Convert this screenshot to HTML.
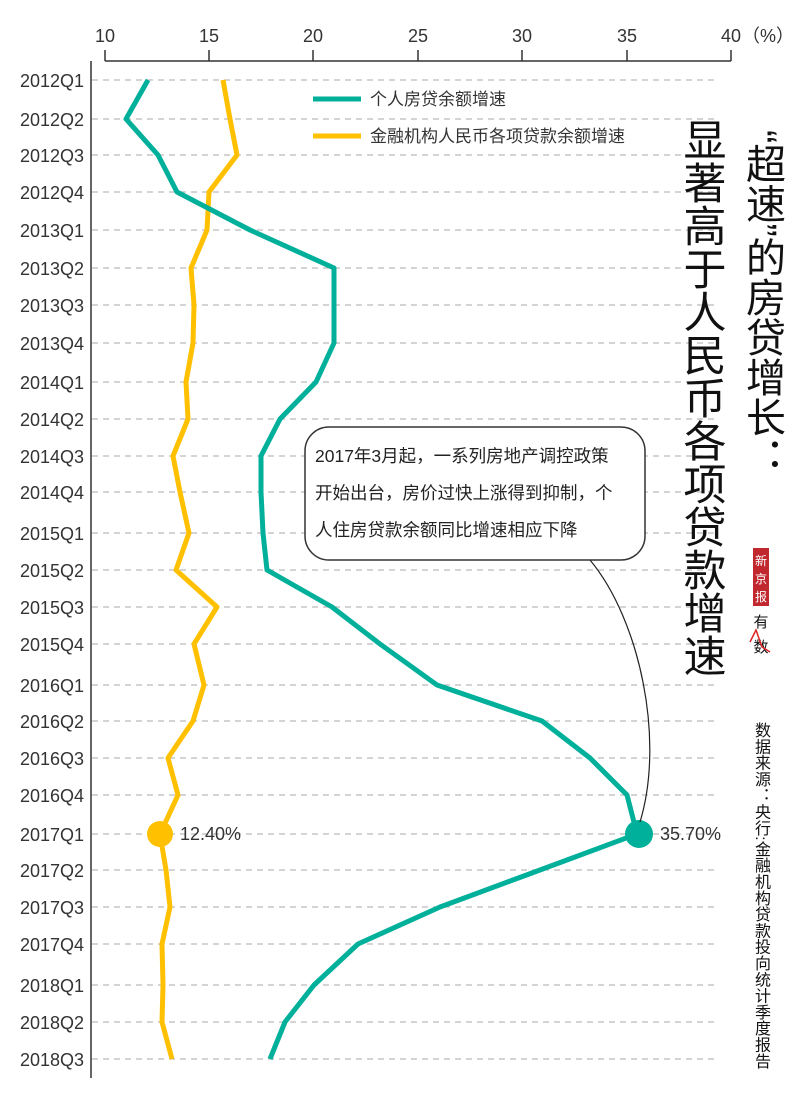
<!DOCTYPE html>
<html><head><meta charset="utf-8"><style>
body{margin:0;background:#fff;}
svg text{font-family:"Liberation Sans","Noto Sans CJK SC",sans-serif;}
.v{position:absolute;writing-mode:vertical-rl;font-family:"Liberation Sans","Noto Sans CJK SC",sans-serif;color:#111;}
</style></head><body>
<div style="position:relative;width:800px;height:1101px;overflow:hidden;">
<svg width="800" height="1101" xmlns="http://www.w3.org/2000/svg" style="position:absolute;left:0;top:0">
<g stroke="#bbb" stroke-width="1.2" stroke-dasharray="6,5">
<line x1="92" x2="718" y1="80" y2="80"/><line x1="92" x2="718" y1="119" y2="119"/><line x1="92" x2="718" y1="155" y2="155"/><line x1="92" x2="718" y1="192" y2="192"/><line x1="92" x2="718" y1="230" y2="230"/><line x1="92" x2="718" y1="268" y2="268"/><line x1="92" x2="718" y1="305" y2="305"/><line x1="92" x2="718" y1="343" y2="343"/><line x1="92" x2="718" y1="382" y2="382"/><line x1="92" x2="718" y1="419" y2="419"/><line x1="92" x2="718" y1="456" y2="456"/><line x1="92" x2="718" y1="492" y2="492"/><line x1="92" x2="718" y1="533" y2="533"/><line x1="92" x2="718" y1="570" y2="570"/><line x1="92" x2="718" y1="607" y2="607"/><line x1="92" x2="718" y1="644" y2="644"/><line x1="92" x2="718" y1="685" y2="685"/><line x1="92" x2="718" y1="721" y2="721"/><line x1="92" x2="718" y1="758" y2="758"/><line x1="92" x2="718" y1="795" y2="795"/><line x1="92" x2="718" y1="834" y2="834"/><line x1="92" x2="718" y1="870" y2="870"/><line x1="92" x2="718" y1="907" y2="907"/><line x1="92" x2="718" y1="944" y2="944"/><line x1="92" x2="718" y1="985" y2="985"/><line x1="92" x2="718" y1="1022" y2="1022"/><line x1="92" x2="718" y1="1059" y2="1059"/>
</g>
<g stroke="#333" stroke-width="1.5" fill="none">
<line x1="91" y1="61" x2="91" y2="1078"/>
<line x1="105" y1="61" x2="731" y2="61"/>
<line x1="105" y1="50" x2="105" y2="61"/><line x1="209" y1="50" x2="209" y2="61"/><line x1="313" y1="50" x2="313" y2="61"/><line x1="418" y1="50" x2="418" y2="61"/><line x1="522" y1="50" x2="522" y2="61"/><line x1="627" y1="50" x2="627" y2="61"/><line x1="731" y1="50" x2="731" y2="61"/>
</g>
<g font-size="18" fill="#333" text-anchor="middle">
<text x="105" y="42">10</text><text x="209" y="42">15</text><text x="313" y="42">20</text><text x="418" y="42">25</text><text x="522" y="42">30</text><text x="627" y="42">35</text><text x="731" y="42">40</text>
<text x="768" y="42">（%）</text>
</g>
<g font-size="18" fill="#333" text-anchor="end">
<text x="84" y="87">2012Q1</text><text x="84" y="126">2012Q2</text><text x="84" y="162">2012Q3</text><text x="84" y="199">2012Q4</text><text x="84" y="237">2013Q1</text><text x="84" y="275">2013Q2</text><text x="84" y="312">2013Q3</text><text x="84" y="350">2013Q4</text><text x="84" y="389">2014Q1</text><text x="84" y="426">2014Q2</text><text x="84" y="463">2014Q3</text><text x="84" y="499">2014Q4</text><text x="84" y="540">2015Q1</text><text x="84" y="577">2015Q2</text><text x="84" y="614">2015Q3</text><text x="84" y="651">2015Q4</text><text x="84" y="692">2016Q1</text><text x="84" y="728">2016Q2</text><text x="84" y="765">2016Q3</text><text x="84" y="802">2016Q4</text><text x="84" y="841">2017Q1</text><text x="84" y="877">2017Q2</text><text x="84" y="914">2017Q3</text><text x="84" y="951">2017Q4</text><text x="84" y="992">2018Q1</text><text x="84" y="1029">2018Q2</text><text x="84" y="1066">2018Q3</text>
</g>
<polyline fill="none" stroke="#ffc000" stroke-width="5" stroke-linejoin="round" points="223,80 230,119 237,155 209,192 207,230 191,268 194,305 193,343 186,382 188,419 173,456 180,492 189,533 176,570 217,607 194,644 204,685 193,721 168,758 178,795 160,834 166,870 170,907 162,944 163,985 162,1022 172,1059"/>
<polyline fill="none" stroke="#00b09a" stroke-width="5" stroke-linejoin="round" points="148,80 126,119 158,155 177,192 250,230 334,268 334,305 334,343 316,382 280,419 261,456 261,492 263,533 267,570 332,607 380,644 437,685 542,721 590,758 627,795 637,834 540,870 440,907 358,944 314,985 285,1022 270,1059"/>
<circle cx="160" cy="834" r="13" fill="#ffc000"/>
<circle cx="639" cy="834" r="14" fill="#00b09a"/>
<text x="180" y="840" font-size="18" fill="#333">12.40%</text>
<text x="660" y="840" font-size="18" fill="#333">35.70%</text>
<line x1="313" y1="99" x2="361" y2="99" stroke="#00b09a" stroke-width="5"/>
<line x1="313" y1="136" x2="361" y2="136" stroke="#ffc000" stroke-width="5"/>
<text x="370" y="105" font-size="17" fill="#333">个人房贷余额增速</text>
<text x="370" y="142" font-size="17" fill="#333">金融机构人民币各项贷款余额增速</text>
<path d="M590,560 C640,620 665,740 640,822" fill="none" stroke="#222" stroke-width="1.2"/>
<rect x="305" y="427" width="340" height="133" rx="24" fill="#fff" stroke="#333" stroke-width="1.5"/>
<g font-size="17.5" fill="#222">
<text x="315" y="462">2017年3月起，一系列房地产调控政策</text>
<text x="315" y="499">开始出台，房价过快上涨得到抑制，个</text>
<text x="315" y="536">人住房贷款余额同比增速相应下降</text>
</g>
<rect x="753" y="548" width="16" height="58" fill="#c0282e"/>
<text x="761" y="565" font-size="12" fill="#fff" text-anchor="middle">新</text>
<text x="761" y="583" font-size="12" fill="#fff" text-anchor="middle">京</text>
<text x="761" y="601" font-size="12" fill="#fff" text-anchor="middle">报</text>
<text x="761" y="627" font-size="15" fill="#111" text-anchor="middle">有</text>
<text x="761" y="652" font-size="15" fill="#111" text-anchor="middle">数</text>
<path d="M750,642 L756,630 L762,647 L770,652" fill="none" stroke="#d22" stroke-width="1.5"/>
</svg>
<div class="v" style="left:741px;top:130px;font-size:40px;line-height:42px;">“超速”的房贷增长：</div>
<div class="v" style="left:678px;top:118px;font-size:43px;line-height:45px;">显著高于人民币各项贷款增速</div>
<div class="v" style="left:751px;top:722px;font-size:16px;line-height:18px;letter-spacing:0.3px;">数据来源：央行:金融机构贷款投向统计季度报告</div>
</div>
</body></html>
